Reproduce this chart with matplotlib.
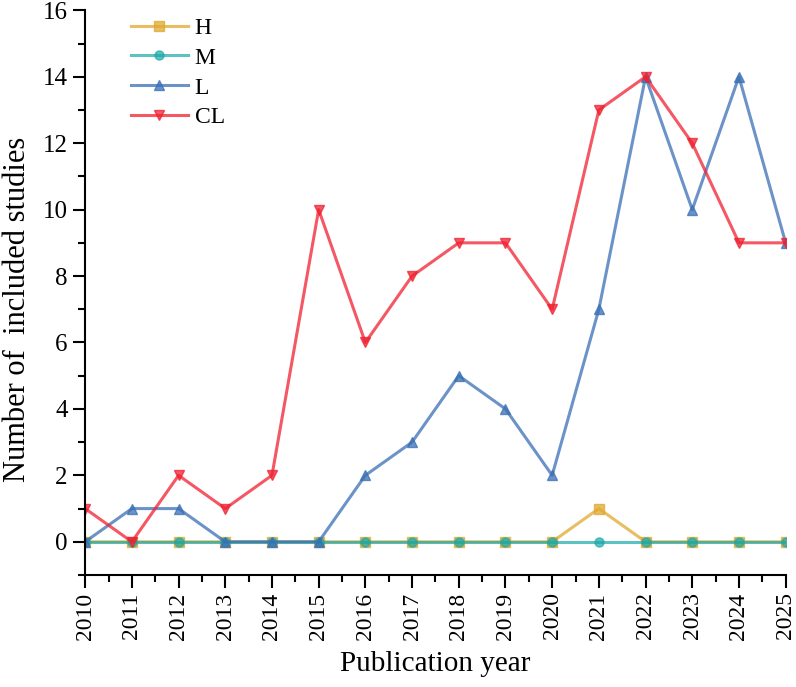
import matplotlib
matplotlib.use("Agg")
import matplotlib.pyplot as plt
from matplotlib.ticker import MultipleLocator

# data
years = list(range(2010, 2026))
h_vals = [0, 0, 0, 0, 0, 0, 0, 0, 0, 0, 0, 1, 0, 0, 0, 0]
m_vals = [0] * 16
l_vals = [0, 1, 1, 0, 0, 0, 2, 3, 5, 4, 2, 7, 14, 10, 14, 9]
cl_vals = [1, 0, 2, 1, 2, 10, 6, 8, 9, 9, 7, 13, 14, 12, 9, 9]

plt.rcParams['font.family'] = ['Liberation Serif', 'DejaVu Serif']

fig = plt.figure(figsize=(7.96, 6.87), dpi=100)
ax = fig.add_axes([0.107, 0.163, 0.880, 0.822])

lw = 2.2
ms = 6.5
ax.plot(years, h_vals, color='#e0a82e', marker='s', lw=lw, ms=ms, alpha=0.75, label='H')
ax.plot(years, m_vals, color='#1aa8a8', marker='o', lw=lw, ms=ms, alpha=0.7, label='M')
ax.plot(years, l_vals, color='#3a6fb5', marker='^', lw=lw, ms=ms, alpha=0.75, label='L')
ax.plot(years, cl_vals, color='#f02030', marker='v', lw=lw, ms=ms, alpha=0.75, label='CL')

ax.set_xlim(2010, 2025)
ax.set_ylim(-1, 16)
ax.set_xticks(years)
ax.set_xticklabels([str(y) for y in years], rotation=90)
ax.xaxis.set_minor_locator(MultipleLocator(0.5))
ax.yaxis.set_major_locator(MultipleLocator(2))
ax.yaxis.set_minor_locator(MultipleLocator(1))

for s in ['top', 'right']:
    ax.spines[s].set_visible(False)
for s in ['left', 'bottom']:
    ax.spines[s].set_linewidth(1.5)

ax.tick_params(which='major', length=9, width=1.5, direction='out')
ax.tick_params(which='minor', length=5, width=1.5, direction='out')
ax.tick_params(axis='x', labelsize=17)
ax.tick_params(axis='y', labelsize=18)

ax.set_xlabel('Publication year', fontsize=21, labelpad=8)
ax.set_ylabel('Number of  included studies', fontsize=22, labelpad=8)
ax.yaxis.set_label_coords(-0.076, 0.47)

ax.legend(loc='upper left', frameon=False, fontsize=17, handlelength=2.4,
          handletextpad=0.3, bbox_to_anchor=(0.035, 1.025), labelspacing=0.35)

fig.savefig('out.png', dpi=100)
